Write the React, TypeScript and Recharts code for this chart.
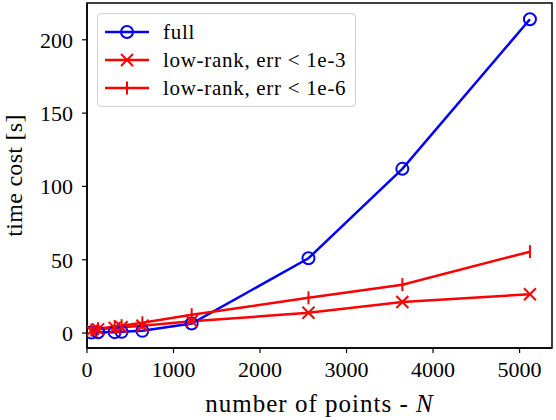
import React from 'react';
import { LineChart, Line, XAxis, YAxis, ReferenceArea, Label } from 'recharts';

const points = [50, 128, 320, 400, 640, 1210, 2560, 3645, 5120];
const fullCost = [0.3, 0.5, 0.6, 0.8, 1.5, 6.5, 51, 112, 214];
const lowRank3 = [1.5, 2.5, 3.5, 4.0, 5.0, 8.0, 13.8, 21.2, 26.5];
const lowRank6 = [2.0, 3.0, 4.5, 5.0, 7.0, 12.5, 24, 33, 55.5];
const xTicks = [0, 1000, 2000, 3000, 4000, 5000];
const yTicks = [0, 50, 100, 150, 200];

const data = points.map((n, i) => ({
  n,
  full: fullCost[i],
  lr3: lowRank3[i],
  lr6: lowRank6[i],
}));

const FONT = '"Liberation Serif", "DejaVu Serif", serif';
const BLUE = '#0000ff';
const RED = '#ff0000';
const X_DOMAIN: [number, number] = [0, 5375];
const Y_DOMAIN: [number, number] = [-10.2, 225.1];

const CircleDot = (props: any) => {
  const { cx, cy, key } = props;
  if (cx == null || cy == null) return null;
  return <circle key={key} cx={cx} cy={cy} r={6} fill="none" stroke={BLUE} strokeWidth={2} />;
};

const CrossDot = (props: any) => {
  const { cx, cy, key } = props;
  if (cx == null || cy == null) return null;
  const s = 6;
  return (
    <g key={key} stroke={RED} strokeWidth={2}>
      <line x1={cx - s} y1={cy - s} x2={cx + s} y2={cy + s} />
      <line x1={cx - s} y1={cy + s} x2={cx + s} y2={cy - s} />
    </g>
  );
};

const VLineDot = (props: any) => {
  const { cx, cy, key } = props;
  if (cx == null || cy == null) return null;
  return <line key={key} x1={cx} y1={cy - 6.5} x2={cx} y2={cy + 6.5} stroke={RED} strokeWidth={2} />;
};

const legendItems = [
  { label: 'full', color: BLUE, marker: 'o' },
  { label: 'low-rank, err < 1e-3', color: RED, marker: 'x' },
  { label: 'low-rank, err < 1e-6', color: RED, marker: '|' },
];

// matplotlib-style legend box, placed over the plot
const LegendBox = () => (
  <div
    style={{
      position: 'absolute',
      left: 97,
      top: 13,
      border: '1px solid #d0d0d0',
      borderRadius: 4,
      background: 'rgba(255,255,255,0.8)',
      width: 259,
      height: 94,
      boxSizing: 'border-box',
      padding: '4px 0 0 7px',
      fontFamily: FONT,
      fontSize: 21,
      letterSpacing: 0.7,
      color: '#000',
    }}
  >
    {legendItems.map((item) => (
      <div key={item.label} style={{ display: 'flex', alignItems: 'center', height: 28 }}>
        <svg width={44} height={20} style={{ marginRight: 14 }}>
          <line x1={0} y1={10} x2={44} y2={10} stroke={item.color} strokeWidth={2.5} />
          {item.marker === 'o' && <circle cx={22} cy={10} r={6} fill="none" stroke={item.color} strokeWidth={2} />}
          {item.marker === 'x' && (
            <g stroke={item.color} strokeWidth={2}>
              <line x1={16} y1={4} x2={28} y2={16} />
              <line x1={16} y1={16} x2={28} y2={4} />
            </g>
          )}
          {item.marker === '|' && <line x1={22} y1={3.5} x2={22} y2={16.5} stroke={item.color} strokeWidth={2} />}
        </svg>
        <span style={{ whiteSpace: 'nowrap', lineHeight: '28px' }}>{item.label}</span>
      </div>
    ))}
  </div>
);

const XLabel = (props: any) => {
  const { viewBox } = props;
  const cx = viewBox.x + viewBox.width / 2;
  return (
    <text x={cx} y={412} textAnchor="middle" style={{ fontFamily: FONT, fontSize: 25, letterSpacing: 1 }} fill="#000">
      number of points - <tspan fontStyle="italic">N</tspan>
    </text>
  );
};

const YLabel = (props: any) => {
  const { viewBox } = props;
  const cy = viewBox.y + viewBox.height / 2;
  return (
    <text
      x={22}
      y={cy}
      transform={`rotate(-90, 22, ${cy})`}
      textAnchor="middle"
      style={{ fontFamily: FONT, fontSize: 24, letterSpacing: 0.3 }}
      fill="#000"
    >
      time cost [s]
    </text>
  );
};

const tickStyle = { fill: '#000', fontSize: 22, style: { fontFamily: FONT } };

export default function App() {
  return (
    <div style={{ position: 'absolute', left: 0, top: 0, width: 556, height: 420, background: '#fff', fontFamily: FONT }}>
      <LineChart width={556} height={420} data={data} margin={{ top: 3, right: 4, left: 27, bottom: 32 }} style={{ fontFamily: FONT }}>
        <XAxis
          dataKey="n"
          type="number"
          domain={X_DOMAIN}
          ticks={xTicks}
          allowDataOverflow
          height={40}
          tickSize={5}
          tickMargin={8}
          axisLine={{ stroke: '#000', strokeWidth: 1.5 }}
          tickLine={{ stroke: '#000', strokeWidth: 1.2 }}
          tick={tickStyle}
        >
          <Label content={<XLabel />} />
        </XAxis>
        <YAxis
          type="number"
          domain={Y_DOMAIN}
          ticks={yTicks}
          allowDataOverflow
          width={60}
          tickSize={5}
          tickMargin={9}
          axisLine={{ stroke: '#000', strokeWidth: 1.5 }}
          tickLine={{ stroke: '#000', strokeWidth: 1.2 }}
          tick={tickStyle}
        >
          <Label content={<YLabel />} />
        </YAxis>
        <ReferenceArea
          x1={X_DOMAIN[0]}
          x2={X_DOMAIN[1]}
          y1={Y_DOMAIN[0]}
          y2={Y_DOMAIN[1]}
          fill="none"
          stroke="#000"
          strokeWidth={1.5}
          ifOverflow="visible"
        />
        <Line dataKey="full" stroke={BLUE} strokeWidth={2.5} dot={CircleDot} isAnimationActive={false} />
        <Line dataKey="lr3" stroke={RED} strokeWidth={2.5} dot={CrossDot} isAnimationActive={false} />
        <Line dataKey="lr6" stroke={RED} strokeWidth={2.5} dot={VLineDot} isAnimationActive={false} />
      </LineChart>
      <LegendBox />
    </div>
  );
}
